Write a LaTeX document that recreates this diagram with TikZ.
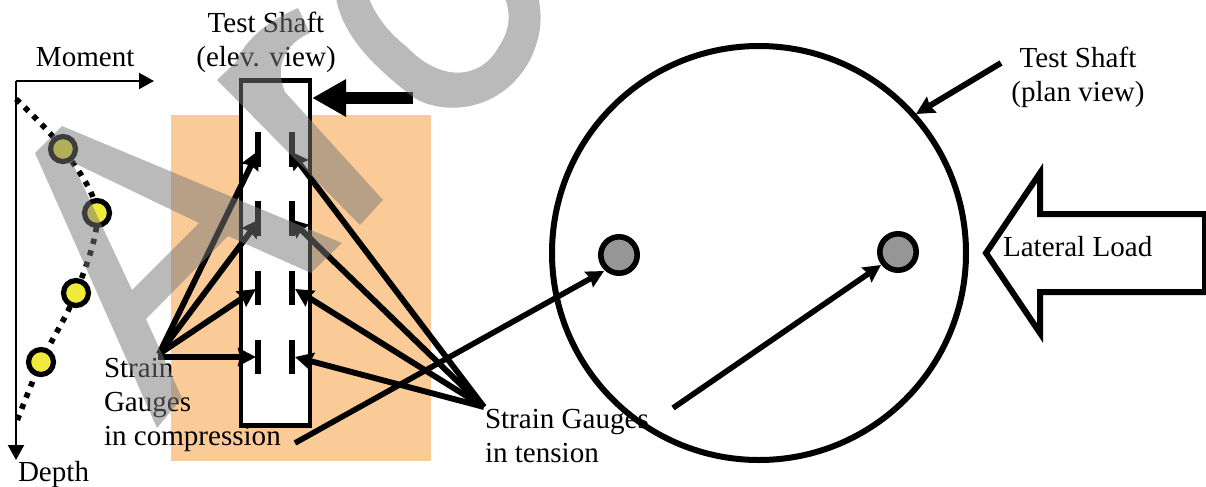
\documentclass[tikz,border=0pt]{standalone}
\usepackage{fontspec}
\setmainfont{Liberation Serif}
\usetikzlibrary{arrows.meta}
\definecolor{soil}{RGB}{250,203,150}
\definecolor{gaugeY}{RGB}{240,234,60}
\definecolor{holeG}{RGB}{150,150,150}
\definecolor{wmark}{RGB}{120,120,120}
\tikzset{
  lbl/.style={font=\fontsize{21.8}{25.5}\selectfont,inner sep=0pt,outer sep=0pt,text=black},
  axisline/.style={line width=1.6pt,-{Triangle[length=11.25pt,width=12pt]}},
  lead/.style={line width=4.4pt,-{Stealth[length=13.5pt,width=13.5pt,inset=1.5pt]}},
  leadthin/.style={line width=4.2pt,-{Stealth[length=13pt,width=13pt,inset=1.5pt]}},
  bar/.style={line width=4.3pt},
  mark point/.style={circle,draw=black,line width=3.9pt,fill=gaugeY,minimum size=18.75pt,inner sep=0pt},
  hole/.style={circle,draw=black,line width=4.2pt,fill=holeG,minimum size=27.3pt,inner sep=0pt},
  wm/.style={fill=wmark,fill opacity=.51,draw=none,even odd rule},
}
\begin{document}
\begin{tikzpicture}[x=0.75pt,y=-0.75pt]
\useasboundingbox (0,0) rectangle (1206,486);
\clip (0,0) rectangle (1206,486);
% soil
\fill[soil] (171,115) rectangle (431,461);
% axes
\coordinate (orig) at (16,81);
\coordinate (mEnd) at (154,81);
\coordinate (dEnd) at (16,460);
\draw[axisline] (orig) -- (mEnd);
\draw[axisline] (orig) -- (dEnd);
% dotted curve and gauges
\coordinate (c0) at (16,99);
\coordinate (c5) at (15,426);
\coordinate (p1) at (63,149);
\coordinate (p2) at (97,213);
\coordinate (p3) at (76,293);
\coordinate (p4) at (41,362);
\draw[line width=4.2pt,dash pattern=on 4pt off 5pt] plot[smooth,tension=.55] coordinates {(c0) (p1) (p2) (p3) (p4) (c5)};
\node[mark point] (m1) at (p1) {};
\node[mark point] (m2) at (p2) {};
\node[mark point] (m3) at (p3) {};
\node[mark point] (m4) at (p4) {};
% shaft elevation
\node[draw=black,fill=white,line width=3.2pt,minimum width=51.75pt,minimum height=258.75pt,inner sep=0pt] (shaft) at (275.5,253) {};
% gauge bars
\foreach \n/\ya/\yb in {1/132/167,2/201/236,3/271/305,4/340/374}{
  \draw[bar] (258,\ya) -- (258,\yb);
  \draw[bar] (292,\ya) -- (292,\yb);
}
% load arrow on shaft
\coordinate (loadS) at (413,98);
\draw[line width=8.7pt,-{Triangle[length=25.5pt,width=26.5pt]}] (loadS) -- (shaft.east |- loadS);
% compression leads
\coordinate (cc) at (159,354);
\coordinate (cd) at (158,357);
\coordinate (g1) at (258,151);
\coordinate (g2) at (260,219);
\coordinate (g3) at (256,289);
\coordinate (g4) at (256,357);
\foreach \g in {g1,g2,g3}{\draw[lead] (cc) -- (\g);}
\draw[lead] (cd) -- (g4);
% tension leads
\coordinate (tt) at (484,407);
\coordinate (h1) at (290,151);
\coordinate (h2) at (290,219);
\coordinate (h3) at (295,289);
\coordinate (h4) at (295,357);
\foreach \g in {h1,h2,h3,h4}{\draw[lead] (tt) -- (\g);}
% plan
\node[circle,draw=black,line width=4.5pt,minimum size=310.5pt,inner sep=0pt] (plan) at (759,253) {};
\node[hole] (hL) at (619,255) {};
\node[hole] (hR) at (898,252) {};
\coordinate (s1) at (295,443);
\coordinate (s2) at (673,408);
\coordinate (s3) at (1001,63);
\coordinate (t1) at (604,271);
\coordinate (t2) at (881,265);
\coordinate (t3) at (916,114);
\draw[leadthin] (s1) -- (t1);
\draw[leadthin] (s2) -- (t2);
\draw[lead] (s3) -- (t3);
% block arrow
\draw[line width=4.5pt,fill=white,miter limit=10] (986,253) -- (1040,173) -- (1040,214) -- (1205,214) -- (1205,292) -- (1040,292) -- (1040,333) -- cycle;
% labels
\node[lbl,anchor=base west] (lMoment) at (36,66) {Moment};
\node[lbl,anchor=base west] (lDepth) at (18,481) {Depth};
\node[lbl,anchor=base west] (lLoad) at (1003,256) {Lateral Load};
\node[lbl,anchor=north,align=center] (lElev) at (266,12) {Test Shaft\\(elev. view)};
\node[lbl,anchor=north,align=center] (lPlan) at (1078,47) {Test Shaft\\(plan view)};
\node[lbl,anchor=north west,align=left] (lComp) at (104,358) {Strain\\Gauges\\in compression};
\node[lbl,anchor=north west,align=left] (lTens) at (485,409) {Strain Gauges\\in tension};
% watermark
\path[wm] (35,153) -- (62,126) -- (342,243) -- (311,273) -- (228,236) -- (146,319) -- (182,398) -- (157,428) -- cycle
  (72,162) -- (199,223) -- (132,290) -- cycle;
\path[wm] (217,80) -- (236,62) .. controls (246,38) and (270,20) .. (298,8) -- (310,33)
  .. controls (288,42) and (273,64) .. (285,92) -- (383,200) -- (360,225) -- cycle;
\path[wm] (335,-8) .. controls (340,30) and (365,60) .. (413,97)
  .. controls (440,115) and (500,115) .. (530,60)
  .. controls (542,35) and (543,15) .. (537,-8)
  -- (503,-8) .. controls (512,15) and (510,30) .. (498,48)
  .. controls (480,80) and (440,82) .. (407,47)
  .. controls (385,30) and (372,10) .. (367,-8) -- cycle;
\end{tikzpicture}
\end{document}
